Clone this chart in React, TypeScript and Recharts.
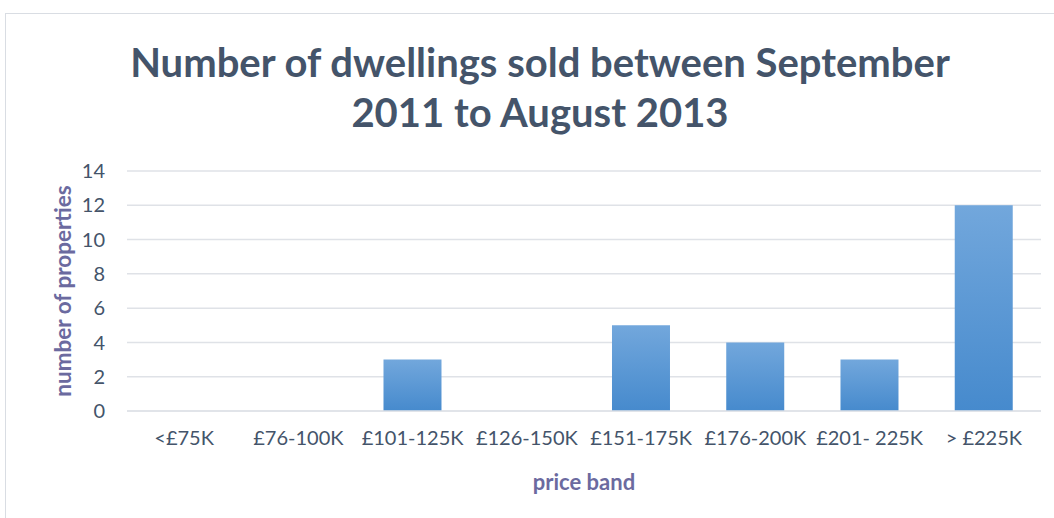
import React from "react";
import { BarChart, Bar, XAxis, YAxis, CartesianGrid } from "recharts";

const categories = ["<£75K", "£76-100K", "£101-125K", "£126-150K", "£151-175K", "£176-200K", "£201- 225K", "> £225K"];
const counts = [0, 0, 3, 0, 5, 4, 3, 12];
const yTicks = [0, 2, 4, 6, 8, 10, 12, 14];

const data = categories.map((c, i) => ({ band: c, count: counts[i] }));

const FONT = "Lato, 'Open Sans', sans-serif";

export default function App() {
  return (
    <div style={{ position: "absolute", left: 0, top: 0, width: 1054, height: 518, background: "#fff", fontFamily: FONT, overflow: "hidden" }}>
      <div style={{ position: "absolute", left: 5, top: 13, width: 1060, height: 520, border: "1.5px solid #d9dde3", boxSizing: "border-box" }} />
      <div style={{ position: "absolute", left: 0, top: 37, width: 1080, textAlign: "center", fontWeight: 700, fontSize: 40, lineHeight: "50px", color: "#44546a" }}>
        Number of dwellings sold between September
        <br />
        2011 to August 2013
      </div>
      <div style={{ position: "absolute", left: 62, top: 291, transform: "translate(-50%, -50%) rotate(-90deg)", whiteSpace: "nowrap", fontWeight: 700, fontSize: 22.5, color: "#6b6a9f" }}>
        number of properties
      </div>
      <div style={{ position: "absolute", left: 584, top: 481, transform: "translate(-50%, -50%)", whiteSpace: "nowrap", fontWeight: 700, fontSize: 22, color: "#6b6a9f" }}>
        price band
      </div>
      <div style={{ position: "absolute", left: 0, top: 0 }}>
        <BarChart width={1054} height={518} data={data} margin={{ top: 171, right: 13, bottom: 77, left: 27 }} barCategoryGap="24.5%">
          <defs>
            <linearGradient id="barGrad" x1="0" y1="0" x2="0" y2="1">
              <stop offset="0%" stopColor="#72a7dc" />
              <stop offset="100%" stopColor="#468acd" />
            </linearGradient>
          </defs>
          <CartesianGrid vertical={false} stroke="#dfe2e7" strokeWidth={1.5} />
          <XAxis dataKey="band" height={30} axisLine={{ stroke: "#dfe2e7", strokeWidth: 1.5 }} tickLine={false} interval={0} tick={{ fill: "#44546a", fontSize: 20, fontFamily: FONT }} tickMargin={14} />
          <YAxis width={100} domain={[0, 14]} ticks={yTicks} axisLine={false} tickLine={false} tick={{ fill: "#44546a", fontSize: 20, fontFamily: FONT }} tickMargin={16} />
          <Bar dataKey="count" fill="url(#barGrad)" isAnimationActive={false} />
        </BarChart>
      </div>
    </div>
  );
}
